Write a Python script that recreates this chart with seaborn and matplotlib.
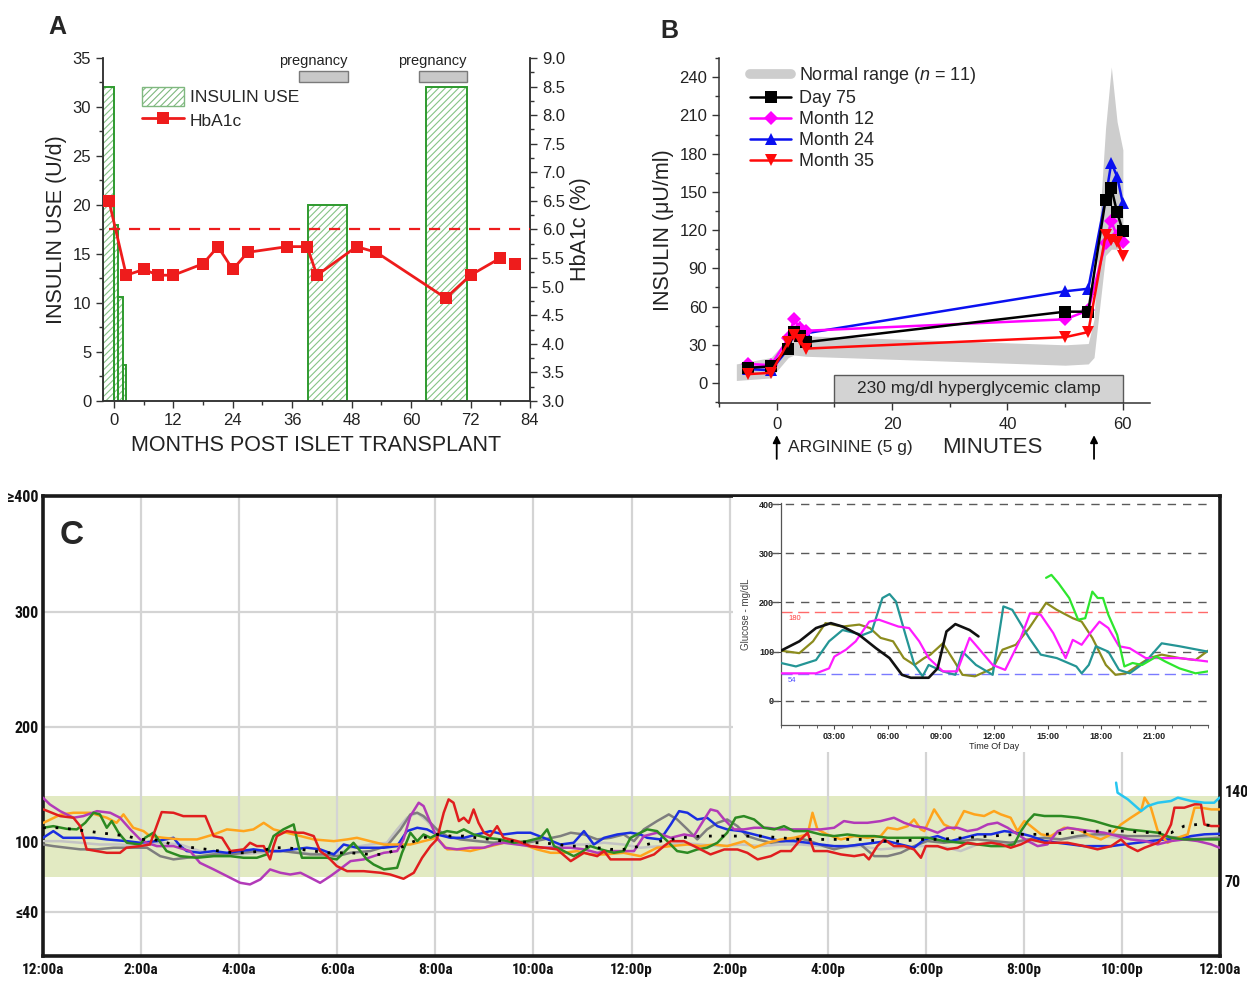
import matplotlib
matplotlib.use("Agg")
import matplotlib.pyplot as plt
import seaborn as sns
from matplotlib.patches import Patch, Rectangle
from matplotlib.lines import Line2D
from matplotlib.ticker import MultipleLocator, FormatStrFormatter
from matplotlib import font_manager

# ---------------- Panel A data ----------------
INS_START = [-2.2, 0.0, 0.9, 1.9, 39.1, 63.1]
INS_END = [0.0, 0.9, 1.9, 2.5, 47.1, 71.2]
INS_UNITS = [32, 18, 10.6, 3.7, 20, 32]
PREG_START = [37.3, 61.6]
PREG_END = [47.2, 71.2]
HBA_MONTH = [-1, 2.5, 6, 9, 12, 18, 21, 24, 27, 35, 39, 41, 49, 53, 67, 72, 78, 81]
HBA_VALUE = [6.5, 5.2, 5.3, 5.2, 5.2, 5.4, 5.7, 5.3, 5.6, 5.7, 5.7, 5.2, 5.7, 5.6, 4.8, 5.2, 5.5, 5.4]
HBA_TARGET = 6.0
TARGET_FROM = -1

# ---------------- Panel B data ----------------
B_MIN = [-5, -1, 2, 3, 4, 5, 50, 54, 57, 58, 59, 60]
DAY75 = [12, 13, 27, 40, 37, 32, 56, 56, 144, 153, 134, 119]
MONTH12 = [15, 14, 35, 50, 43, 41, 50, 57, 110, 127, 115, 111]
MONTH24 = [11, 10, 27, 40, 44, 39, 72, 74, 145, 173, 162, 141]
MONTH35 = [7, 8, 32, 38, 34, 27, 36, 40, 116, 112, 111, 100]
NR_MIN = [-7, -1, 2, 3, 5, 50, 54, 55, 56, 57, 58, 59, 60]
NR_LOW = [2, 4, 20, 22, 21, 14, 15, 20, 60, 100, 105, 105, 110]
NR_HIGH = [15, 20, 35, 45, 37, 30, 31, 50, 130, 200, 248, 205, 183]
CLAMP_FROM, CLAMP_TO, CLAMP_TOP = 10, 60, 6.6
ARROW_MIN = [0, 55]

# ---------------- Panel C data (hour of day, mg/dL) ----------------
C_TICK_HOURS = list(range(0, 25, 2))
C_TICK_LABELS = ["12:00a", "2:00a", "4:00a", "6:00a", "8:00a", "10:00a", "12:00p",
                 "2:00p", "4:00p", "6:00p", "8:00p", "10:00p", "12:00a"]
C_Y_TICKS = [40, 100, 200, 300, 400]
C_Y_LABELS = ["\u226440", "100", "200", "300", "\u2265400"]
C_GRID_Y = [40, 200, 300]
TARGET_LOW, TARGET_HIGH = 70, 140

RED = [(0.01,128.6),(0.35,122.8),(0.62,121.4),(0.76,114),(0.89,94),(1.3,91),(1.57,91),(1.7,95.4),(1.98,96.8),(2.18,98.2),(2.42,126.3),(2.66,125.7),(2.86,122.8),(3.31,122.8),(3.48,105.5),(3.65,104),(3.82,92.5),(4.09,94),(4.22,99.7),(4.36,96.8),(4.5,96.8),(4.63,85.3),(4.7,96.8),(4.77,105.5),(4.97,109.8),(5.18,108.4),(5.31,108.4),(5.52,105.5),(5.65,92.5),(5.79,88.1),(5.99,79.5),(6.2,75.1),(6.54,75.1),(6.88,73.7),(7.08,72.2),(7.35,68.5),(7.56,73.7),(7.73,86.7),(7.9,96.8),(8.03,102.6),(8.17,125.7),(8.27,137.3),(8.37,134.4),(8.48,118.5),(8.58,121.4),(8.68,117),(8.78,128.6),(8.88,117),(8.99,108.4),(9.12,105.5),(9.26,114.1),(9.39,104),(9.67,101.1),(9.94,96.8),(10.21,95.4),(10.48,94),(10.76,83.8),(11.03,91),(11.3,88.1),(11.44,92.5),(11.57,85.3),(11.84,85.3),(12.18,85.3),(12.46,89.6),(12.66,96.8),(12.8,101.1),(13.07,101.1),(13.34,95.4),(13.61,89.6),(13.89,93.9),(14.16,93.9),(14.36,91),(14.57,85.3),(14.84,88.1),(15.04,92.5),(15.25,92.5),(15.45,102.6),(15.59,108.4),(15.72,92.5),(15.99,92.5),(16.27,89.6),(16.54,88.1),(16.74,89.6),(16.84,85.3),(17.01,96.8),(17.15,102.6),(17.35,96.8),(17.56,96.8),(17.76,93.9),(17.9,86.7),(18.0,96.8),(18.24,96.8),(18.44,94),(18.65,95.4),(18.85,99.7),(19.05,98.3),(19.33,99.7),(19.53,98.3),(19.73,95.4),(19.94,98.3),(20.14,102.6),(20.42,99.7),(20.62,99.7),(20.89,99.7),(21.23,96.8),(21.5,94),(21.78,96.8),(21.98,102.6),(22.12,96.8),(22.32,92.5),(22.46,95.4),(22.73,99.7),(22.9,107),(23.0,115.6),(23.07,130.1),(23.27,130.1),(23.48,133),(23.61,133),(23.68,115.6),(23.82,114.2),(23.99,114.2)]
ORANGE = [(0.01,117),(0.35,124),(0.62,125.7),(0.96,125.7),(1.3,121.4),(1.5,117),(1.64,124.3),(1.84,112.7),(2.05,109.8),(2.18,105.5),(2.46,104),(2.8,102.6),(3.14,102.6),(3.48,106.9),(3.75,111.3),(4.09,109.8),(4.29,111.3),(4.5,117),(4.7,111.3),(4.97,108.4),(5.25,105.5),(5.52,102.6),(5.93,101.1),(6.2,102.6),(6.4,104),(6.67,101.1),(6.95,98.2),(7.22,98.2),(7.49,98.2),(7.76,101.1),(8.03,104),(8.24,94),(8.44,94),(8.71,92.5),(8.99,95.4),(9.26,98.2),(9.53,101.1),(9.8,98.2),(10.07,94),(10.35,91),(10.62,91),(10.89,92.5),(11.16,89.6),(11.44,89.6),(11.84,91),(12.18,88.1),(12.52,95.4),(12.8,96.8),(13.14,98.2),(13.41,96.8),(13.68,98.2),(13.95,96.8),(14.3,101.1),(14.5,95.4),(14.77,99.7),(15.04,102.6),(15.31,104),(15.59,106.9),(15.69,125.7),(15.79,111.3),(15.99,106.9),(16.27,102.6),(16.54,105.5),(16.81,104),(17.08,105.5),(17.22,112.7),(17.42,111.3),(17.63,114.1),(17.76,119.9),(17.9,111.3),(17.97,109.8),(18.17,128.6),(18.37,115.6),(18.58,111.3),(18.78,127.2),(18.99,124.3),(19.19,122.9),(19.39,127.2),(19.53,124.3),(19.73,121.4),(19.87,109.8),(20.01,118.5),(20.14,114.2),(20.35,107),(20.55,105.5),(20.82,112.7),(21.1,111.3),(21.37,105.5),(21.57,102.6),(21.78,107),(21.98,115.6),(22.18,121.4),(22.39,127.2),(22.46,138.8),(22.59,130.1),(22.73,109.8),(22.93,99.7),(23.14,104.1),(23.34,107),(23.48,130.1),(23.61,130.1),(23.82,128.6),(23.99,128.6)]
PURPLE = [(0,138.7),(0.14,132.9),(0.35,127.1),(0.62,121.4),(0.82,122.8),(1.1,127.1),(1.37,125.7),(1.57,121.4),(1.78,111.3),(1.98,102.6),(2.12,99.7),(2.32,96.8),(2.66,96.8),(3.0,92.5),(3.2,82.3),(3.48,76.6),(3.75,70.8),(4.02,65),(4.22,63.6),(4.43,67.9),(4.63,76.6),(4.84,73.7),(5.04,72.2),(5.25,73.7),(5.45,69.4),(5.65,65),(5.86,70.8),(6.06,77),(6.27,83.8),(6.54,85.3),(6.74,88.1),(6.95,91),(7.22,92.5),(7.35,102.6),(7.49,122.8),(7.66,134.4),(7.76,131.5),(7.9,117),(8.03,104),(8.2,95.4),(8.44,94),(8.71,95.4),(8.99,95.4),(9.19,98.2),(9.39,99.7),(9.67,98.2),(9.94,96.8),(10.21,95.4),(10.48,95.4),(10.76,95.4),(11.03,94),(11.3,91),(11.57,92.5),(11.84,92.5),(12.05,92.5),(12.25,105.5),(12.52,108.4),(12.8,104),(13.07,106.9),(13.27,105.5),(13.48,119.9),(13.61,128.6),(13.75,127.1),(13.89,119.9),(14.09,111.3),(14.29,111.3),(14.5,112.7),(14.77,112.7),(15.04,111.3),(15.31,111.3),(15.59,111.3),(15.86,111.3),(16.13,112.7),(16.33,118.5),(16.54,117),(16.81,117),(17.08,118.5),(17.35,121.4),(17.56,117),(17.76,114.1),(17.97,112.7),(18.24,108.4),(18.44,112.7),(18.65,112.7),(18.85,109.8),(19.05,111.3),(19.26,115.6),(19.46,117.1),(19.67,112.7),(19.87,107),(20.08,101.2),(20.28,96.8),(20.48,98.3),(20.69,109.8),(20.89,112.7),(21.1,111.3),(21.37,109.8),(21.64,108.4),(21.91,105.5),(22.18,102.6),(22.46,101.2),(22.73,98.3),(23.0,101.2),(23.27,102.6),(23.54,101.2),(23.82,98.3),(23.99,95.4)]
GREEN = [(0,112.7),(0.21,114.1),(0.48,111.8),(0.69,111.3),(0.86,117),(1.03,125.7),(1.16,124.3),(1.3,112.7),(1.4,118.5),(1.54,108.4),(1.71,99.7),(1.98,98.2),(2.08,104),(2.25,108.4),(2.35,102.6),(2.52,92.5),(2.8,88.1),(3.14,86.7),(3.48,88.1),(3.82,88.1),(4.09,86.7),(4.36,86.7),(4.56,89.6),(4.7,105.5),(4.9,111.3),(5.11,115.6),(5.21,96.8),(5.28,86.7),(5.59,86.7),(5.79,86.7),(5.99,85.3),(6.13,91),(6.33,99.7),(6.47,92.5),(6.6,85.3),(6.74,80.9),(6.95,76.6),(7.22,78),(7.32,91),(7.42,101.1),(7.49,108.4),(7.63,101.1),(7.76,106.9),(7.9,104),(8.03,106.9),(8.24,109.8),(8.44,108.4),(8.58,111.3),(8.78,106.9),(9.05,104),(9.33,102.6),(9.6,99.7),(9.87,101.1),(10.14,104),(10.28,111.3),(10.42,96.8),(10.55,94),(10.82,88.1),(10.96,91),(11.16,96.8),(11.37,94),(11.64,91),(11.84,92.5),(11.98,104),(12.18,108.4),(12.32,111.3),(12.52,109.8),(12.73,101.1),(12.93,92.5),(13.14,91),(13.34,93.9),(13.54,95.4),(13.75,99.7),(13.95,108.4),(14.12,121.4),(14.29,122.8),(14.5,119.9),(14.7,112.7),(14.91,111.3),(15.11,114.1),(15.31,109.8),(15.59,109.8),(15.86,106.9),(16.13,105.5),(16.4,106.9),(16.67,105.5),(16.95,105.5),(17.22,104),(17.56,104),(18.03,104.1),(18.37,101.2),(18.71,99.7),(19.05,98.3),(19.33,96.8),(19.6,96.8),(19.8,98.3),(19.94,109.8),(20.08,118.5),(20.21,124.3),(20.42,122.9),(20.76,122.9),(21.1,121.4),(21.44,118.5),(21.78,114.2),(22.12,111.3),(22.46,109.8),(22.73,108.4),(23.0,104.1),(23.27,102.6),(23.54,102.6),(23.99,102.6)]
BLUE = [(0,104),(0.21,109.8),(0.41,104),(0.69,104),(1.03,104),(1.3,102.6),(1.71,101.1),(1.98,99.7),(2.32,101.1),(2.66,104),(2.8,96.8),(2.93,92.5),(3.2,91),(3.48,92.5),(3.75,91),(4.02,92.5),(4.29,94),(4.56,92.5),(4.84,92.5),(5.11,94),(5.38,95.4),(5.65,94),(5.93,89.6),(6.13,98.2),(6.4,95.4),(6.67,95.4),(6.95,95.4),(7.22,96.8),(7.42,109.8),(7.63,112.7),(7.83,111.3),(8.03,106.9),(8.31,104),(8.58,104),(8.85,106.9),(9.12,109.8),(9.39,106.9),(9.67,108.4),(9.94,108.4),(10.21,104),(10.55,98.2),(10.82,99.7),(11.03,109.8),(11.23,98.2),(11.44,104),(11.71,106.9),(11.98,108.4),(12.18,106.9),(12.32,104),(12.59,102.6),(12.8,115.6),(12.97,127.1),(13.14,125.7),(13.34,119.9),(13.54,121.4),(13.75,114.1),(13.95,111.3),(14.23,109.8),(14.5,106.9),(14.77,104),(15.04,101.1),(15.31,101.1),(15.59,99.7),(15.86,98.2),(16.13,96.8),(16.4,96.8),(16.67,98.2),(16.95,99.7),(17.22,101.1),(17.49,98.2),(17.76,95.4),(17.97,102.6),(18.24,105.5),(18.51,101.2),(18.78,104.1),(19.05,107),(19.33,107),(19.6,109.8),(19.87,108.4),(20.14,105.5),(20.42,101.2),(20.69,99.7),(20.96,98.3),(21.23,96.8),(21.5,96.8),(21.78,96.8),(22.05,98.3),(22.32,99.7),(22.59,101.2),(22.87,102.6),(23.14,102.6),(23.41,105.5),(23.68,107),(23.99,107.5)]
DGRAY = [(0,98.2),(0.21,96.8),(0.48,95.4),(0.76,94),(1.1,94),(1.44,95.4),(1.78,95.4),(2.12,95.4),(2.39,88.1),(2.66,85.3),(2.93,86.7),(3.2,88.1),(3.48,89.6),(3.82,89.6),(4.09,91),(4.36,92.5),(4.63,92.5),(4.9,92.5),(5.18,91),(5.45,89.6),(5.72,89.6),(5.99,88.1),(6.27,91),(6.67,92.5),(7.01,96.8),(7.29,111.3),(7.49,124.3),(7.63,125.7),(7.76,122.8),(7.9,117),(8.03,111.3),(8.24,105.5),(8.51,102.6),(8.85,101.1),(9.19,99.7),(9.53,101.1),(9.87,99.7),(10.21,102.6),(10.55,105.5),(10.76,108.4),(11.03,106.9),(11.3,102.6),(11.57,104),(11.84,106.9),(12.05,101.1),(12.25,111.3),(12.52,118.5),(12.76,124.3),(12.93,119.9),(13.14,111.3),(13.34,102.6),(13.54,111.3),(13.75,117),(13.95,119.9),(14.16,114.1),(14.36,105.5),(14.57,102.6),(14.84,99.7),(15.11,101.1),(15.38,104),(15.65,101.1),(15.92,96.8),(16.13,94),(16.4,96.8),(16.67,98.2),(16.95,88.1),(17.22,88.1),(17.49,91),(17.76,96.8),(18.03,101.2),(18.37,99.7),(18.71,101.2),(19.05,102.6),(19.39,101.2),(19.73,99.7),(20.08,102.6),(20.42,104.1),(20.76,102.6),(21.1,105.5),(21.44,107),(21.78,107),(22.12,105.5),(22.46,105.5),(22.8,105.5),(23.14,104.1),(23.48,102.6),(23.99,104.1)]
LGRAY = [(0,101.1),(0.35,101.1),(0.76,99.7),(1.16,98.2),(1.57,98.2),(1.98,96.8),(2.39,99.7),(2.8,98.2),(3.2,92.5),(3.61,89.6),(4.02,89.6),(4.43,91),(4.84,92.5),(5.25,91),(5.65,89.6),(6.06,91),(6.27,95.4),(6.67,98.2),(7.01,99.7),(7.22,111.3),(7.42,121.4),(7.63,125.7),(7.83,118.5),(8.03,108.4),(8.31,104),(8.71,102.6),(9.12,99.7),(9.53,99.7),(9.87,96.8),(10.21,95.4),(10.62,98.2),(11.03,98.2),(11.44,99.7),(11.84,98.2),(12.18,95.4),(12.59,96.8),(13.0,99.7),(13.41,98.2),(13.82,96.8),(14.23,98.2),(14.63,96.8),(15.04,98.2),(15.45,98.2),(15.86,96.8),(16.27,95.4),(16.67,96.8),(17.08,94),(17.49,95.4),(17.9,96.8),(18.1,96.8),(18.44,95.4),(18.71,92.5),(19.05,98.3),(19.46,99.7),(19.87,99.7),(20.28,101.2),(20.69,102.6),(21.1,104.1),(21.5,105.5),(21.91,104.1),(22.32,102.6),(22.73,102.6),(23.14,104.1),(23.54,104.1),(23.99,104.1)]
MEAN = [(0,112.7),(0.35,112.7),(0.62,111.3),(0.89,109.8),(1.16,108.4),(1.44,106.9),(1.71,105.5),(1.98,102.6),(2.25,102.6),(2.52,99.7),(2.8,96.8),(3.07,95.4),(3.34,94),(3.61,92.5),(3.88,91),(4.16,91),(4.43,92.5),(4.7,95.4),(4.97,95.4),(5.25,94),(5.52,92.5),(5.79,91),(6.06,91),(6.27,91),(6.67,89.6),(6.95,89.6),(7.22,94),(7.49,99.7),(7.76,104),(8.03,106.9),(8.31,105.5),(8.58,105.5),(8.85,104),(9.12,102.6),(9.39,101.1),(9.67,101.1),(9.94,99.7),(10.21,99.7),(10.48,98.2),(10.76,96.8),(11.03,96.8),(11.3,95.4),(11.57,94),(11.84,94),(12.18,96.8),(12.59,101.1),(13.0,104),(13.41,105.5),(13.82,105.5),(14.23,105.5),(14.63,105.5),(15.04,104),(15.45,102.6),(15.86,102.6),(16.27,102.6),(16.67,102.6),(17.08,101.1),(17.49,101.1),(17.9,102.6),(18.24,102.6),(18.78,104.1),(19.33,105.5),(19.87,107),(20.42,107),(20.96,108.4),(21.5,109.8),(22.05,109.8),(22.59,108.4),(23.0,108.4),(23.27,114.2),(23.54,115.6),(23.99,114.2)]
CYAN = [(21.88,151.8),(21.91,143.1),(22.12,137.3),(22.39,127.2),(22.52,131.5),(22.73,134.4),(23.0,135.9),(23.14,138.8),(23.41,135.9),(23.68,134.4),(23.88,134.4),(23.99,138.8)]

# ---------------- Inset data (hour of day, mg/dL) ----------------
IN_X_TICKS = [3, 6, 9, 12, 15, 18, 21]
IN_X_LABELS = ["03:00", "06:00", "09:00", "12:00", "15:00", "18:00", "21:00"]
IN_Y_TICKS = [0, 100, 200, 300, 400]
IN_HIGH, IN_LOW = 180, 54
BLACK_IN = [(0,102),(1.03,121),(1.97,148),(2.8,158),(3.46,151),(4.4,134),(5.34,107),(6.1,87),(6.8,53),(7.3,47),(8.3,47),(8.8,66),(9.3,141),(9.8,156),(10.6,144),(11.1,131)]
OLIVE_IN = [(0,102),(1.03,97),(1.8,121),(2.5,158),(3.46,151),(4.4,155),(5.0,148),(5.6,128),(6.3,121),(6.9,87),(7.5,73),(8.05,87),(8.4,94),(9.1,117),(9.8,77),(10.2,53),(10.9,50),(11.9,66),(12.45,104),(13.2,114),(13.95,148),(14.9,199),(15.5,185),(16.4,168),(16.9,161),(17.5,128),(18.26,73),(18.8,53),(19.4,56),(20.1,73),(20.7,87),(21.4,94),(22.4,87),(23.3,83),(24,102)]
TEAL_IN = [(0,77),(0.84,70),(1.97,83),(2.7,121),(3.46,144),(4.6,134),(5.1,141),(5.7,209),(6.1,217),(6.46,202),(7.0,134),(7.5,73),(7.96,50),(8.3,73),(9.1,60),(9.8,53),(10.2,100),(10.96,73),(11.9,53),(12.5,192),(13.0,185),(13.95,128),(14.6,94),(15.5,87),(16.6,70),(16.9,56),(17.3,73),(17.7,111),(18.4,100),(19.0,63),(19.6,56),(20.5,80),(21.4,117),(22.4,111),(24,100)]
MAGENTA_IN = [(0,56),(1.97,56),(2.7,66),(3.0,90),(3.65,104),(4.2,121),(4.96,161),(5.5,165),(6.6,151),(7.2,148),(7.77,121),(8.3,87),(9.1,60),(9.9,60),(10.6,128),(11.1,107),(11.9,73),(12.6,63),(13.4,121),(14.0,178),(14.6,175),(15.3,138),(16.0,87),(16.4,124),(16.9,114),(17.3,134),(17.9,161),(18.4,148),(19.0,111),(19.6,107),(20.5,87),(21.4,87),(22.4,87),(24,80)]
LIME_IN = [(14.9,250),(15.2,256),(15.6,239),(16.2,209),(16.7,165),(17.1,168),(17.5,222),(17.8,209),(18.1,209),(18.4,175),(18.9,134),(19.3,70),(19.76,77),(20.3,73),(21.1,90),(21.6,80),(22.4,66),(23.3,56),(24,60)]

# ---------------- Style ----------------
sns.set_theme(style="ticks")
plt.rcParams["font.family"] = ["Liberation Sans", "DejaVu Sans"]
plt.rcParams["mathtext.fontset"] = "custom"
plt.rcParams["mathtext.it"] = "Liberation Sans:italic"
plt.rcParams["mathtext.rm"] = "Liberation Sans"
plt.rcParams["hatch.linewidth"] = 0.8

_installed = {f.name for f in font_manager.fontManager.ttflist}
_narrow = [n for n in ("Roboto Condensed", "Liberation Sans Narrow", "DejaVu Sans Condensed",
                       "Open Sans Condensed") if n in _installed]
if _narrow:
    COND = [_narrow[0], "DejaVu Sans"]
    C_XFS, C_YFS = 11, 11.5
else:
    COND = ["Liberation Sans", "DejaVu Sans"]
    C_XFS, C_YFS = 9.5, 10.5

fig = plt.figure(figsize=(12.47, 9.84), dpi=100)

# ================= Panel A =================
axA = fig.add_axes([0.0826, 0.5925, 0.3424, 0.3486])
widths = [e - s for s, e in zip(INS_START, INS_END)]
axA.bar(INS_START, INS_UNITS, width=widths, align="edge", facecolor="white",
        edgecolor="#86c486", hatch="/////", linewidth=0, zorder=1)
axA.bar(INS_START, INS_UNITS, width=widths, align="edge", fill=False,
        edgecolor="#2e9a2e", linewidth=1.4, zorder=2)
pw = [e - s for s, e in zip(PREG_START, PREG_END)]
axA.bar(PREG_START, [1.1] * len(PREG_START), bottom=32.55, width=pw, align="edge",
        facecolor="#c8c8c8", edgecolor="#7a7a7a", linewidth=1, zorder=2)
for s, e in zip(PREG_START, PREG_END):
    axA.text(e, 34.0, "pregnancy", ha="right", va="bottom", fontsize=10.5, color="#222")
axA.set_xlim(-2.2, 84)
axA.set_ylim(0, 35)
axA.xaxis.set_major_locator(MultipleLocator(12))
axA.xaxis.set_minor_locator(MultipleLocator(6))
axA.yaxis.set_major_locator(MultipleLocator(5))
axA.yaxis.set_minor_locator(MultipleLocator(2.5))
axA.set_xlabel("MONTHS POST ISLET TRANSPLANT", fontsize=15.5, labelpad=5, color="#222")
axA.set_ylabel("INSULIN USE (U/d)", fontsize=15.5, labelpad=4, color="#222")

axA2 = axA.twinx()
red = "#ee1c1c"
sns.lineplot(x=HBA_MONTH[:-1], y=HBA_VALUE[:-1], ax=axA2, color=red, lw=2.0,
             marker="s", markersize=9, markeredgewidth=0, zorder=5)
sns.scatterplot(x=HBA_MONTH[-1:], y=HBA_VALUE[-1:], ax=axA2, color=red, marker="s",
                s=81, linewidth=0, zorder=5)
axA2.hlines(HBA_TARGET, TARGET_FROM, 84, colors=red, linestyles=(0, (5, 4)), lw=1.6, zorder=4)
axA2.set_ylim(3, 9)
axA2.yaxis.set_major_locator(MultipleLocator(0.5))
axA2.yaxis.set_minor_locator(MultipleLocator(0.25))
axA2.yaxis.set_major_formatter(FormatStrFormatter("%.1f"))
axA2.set_ylabel("HbA1c (%)", fontsize=15.5, labelpad=4, color="#222")
for ax in (axA, axA2):
    ax.spines["top"].set_visible(False)
    for sp in ax.spines.values():
        sp.set_color("#333")
        sp.set_linewidth(1.1)
    ax.tick_params(which="major", length=5, width=1, labelsize=12, colors="#333", labelcolor="#222")
    ax.tick_params(which="minor", length=3, width=1, colors="#333")
axA.tick_params(axis="x", pad=4)
hA = [Patch(facecolor="white", edgecolor="#7fb87f", hatch="/////", lw=1, label="INSULIN USE"),
      Line2D([], [], color=red, lw=2, marker="s", markersize=9, markeredgewidth=0, label="HbA1c")]
axA2.legend(handles=hA, loc="upper left", bbox_to_anchor=(0.075, 0.935), frameon=False,
            fontsize=12.5, handlelength=2.4, handleheight=1.3, labelspacing=0.25,
            handletextpad=0.35, borderaxespad=0)
fig.text(0.046, 0.973, "A", fontsize=18, fontweight="bold", ha="center", va="center")

# ================= Panel B =================
axB = fig.add_axes([0.5766, 0.5904, 0.3456, 0.3506])
ylo = -15.7
axB.fill_between(NR_MIN, NR_LOW, NR_HIGH, color="#cdcdcd", lw=0, zorder=1)
axB.add_patch(Rectangle((CLAMP_FROM, ylo), CLAMP_TO - CLAMP_FROM, CLAMP_TOP - ylo,
                        facecolor="#d3d3d3", edgecolor="#5a5a5a", lw=1, zorder=2))
axB.text((CLAMP_FROM + CLAMP_TO) / 2, (ylo + CLAMP_TOP) / 2, "230 mg/dl hyperglycemic clamp",
         ha="center", va="center", fontsize=12.5, zorder=3)
series = [("Day 75", DAY75, "black", "s", 8), ("Month 12", MONTH12, "#ff00ff", "D", 7.5),
          ("Month 24", MONTH24, "#0a10f0", "^", 9), ("Month 35", MONTH35, "#ff0a0a", "v", 9)]
for name, vals, col, mk, ms in [series[2], series[1], series[0], series[3]]:
    sns.lineplot(x=B_MIN, y=vals, ax=axB, color=col, lw=1.8, marker=mk, markersize=ms,
                 markeredgewidth=0, zorder=4)
axB.set_xlim(-10, 64.7)
axB.set_ylim(ylo, 255)
axB.xaxis.set_major_locator(MultipleLocator(20))
axB.xaxis.set_minor_locator(MultipleLocator(10))
axB.yaxis.set_major_locator(MultipleLocator(30))
axB.yaxis.set_minor_locator(MultipleLocator(15))
axB.set_ylabel("INSULIN (\u03bcU/ml)", fontsize=15.5, labelpad=4, color="#222")
axB.spines["top"].set_visible(False)
axB.spines["right"].set_visible(False)
for sp in axB.spines.values():
    sp.set_color("#333")
    sp.set_linewidth(1.1)
axB.tick_params(which="major", length=5, width=1, labelsize=12, colors="#333", labelcolor="#222")
axB.tick_params(which="minor", length=3, width=1, colors="#333")
axB.tick_params(axis="x", pad=5)
hB = [Line2D([], [], color="#cdcdcd", lw=7, label="Normal range ($\\it{n}$ = 11)")]
for name, vals, col, mk, ms in series:
    hB.append(Line2D([], [], color=col, lw=1.8, marker=mk, markersize=ms, markeredgewidth=0, label=name))
axB.legend(handles=hB, loc="upper left", bbox_to_anchor=(0.055, 1.0), frameon=False,
           fontsize=13, handlelength=2.3, labelspacing=0.22, handletextpad=0.4, borderaxespad=0)
for t in ARROW_MIN:
    axB.annotate("", xy=(t, -0.085), xycoords=("data", "axes fraction"),
                 xytext=(t, -0.17), textcoords=("data", "axes fraction"),
                 arrowprops=dict(arrowstyle="-|>", color="black", lw=1.3, mutation_scale=11))
axB.text(0.16, -0.13, "ARGININE (5 g)", transform=axB.transAxes, fontsize=12.5, ha="left", va="center")
axB.text(0.634, -0.13, "MINUTES", transform=axB.transAxes, fontsize=16, ha="center", va="center")
fig.text(0.537, 0.968, "B", fontsize=18, fontweight="bold", ha="center", va="center")

# ================= Panel C =================
axC = fig.add_axes([0.0345, 0.0285, 0.9439, 0.4675])
axC.set_xlim(0, 24)
axC.set_ylim(1.6, 400.3)
axC.axhspan(TARGET_LOW, TARGET_HIGH, color="#e2eac2", lw=0, zorder=0.5)
axC.vlines(C_TICK_HOURS[1:-1], 1.6, 400.3, colors="#d4d4d4", lw=1.6, zorder=1)
axC.hlines(C_GRID_Y, 0, 24, colors="#d4d4d4", lw=1.6, zorder=1)
traces = [(LGRAY, "#c4c4c4"), (DGRAY, "#7e7e7e"), (BLUE, "#1a2ee0"), (ORANGE, "#ffa41c"),
          (PURPLE, "#b23ab8"), (GREEN, "#2c8a22"), (RED, "#e01e1e"), (CYAN, "#28c6f0")]
for pts, col in traces:
    hx, hv = zip(*pts)
    sns.lineplot(x=list(hx), y=list(hv), ax=axC, color=col, lw=1.8, sort=False,
                 estimator=None, zorder=3)
mx, mv = zip(*MEAN)
axC.plot(mx, mv, color="black", lw=2.0, linestyle=(0, (1, 3.5)), zorder=4)
axC.set_xticks(C_TICK_HOURS)
axC.set_xticklabels(C_TICK_LABELS, fontsize=C_XFS, fontweight="bold", family=COND)
axC.set_yticks(C_Y_TICKS)
axC.set_yticklabels(C_Y_LABELS, fontsize=C_YFS, fontweight="bold", family=COND)
axC.tick_params(length=0, pad=5, labelcolor="#111")
axC.tick_params(axis="y", pad=3)
axC.grid(False)
for sp in axC.spines.values():
    sp.set_visible(True)
    sp.set_color("#1a1a1a")
    sp.set_linewidth(2.6)
for v, dy in ((TARGET_HIGH, 3), (TARGET_LOW, -5)):
    axC.text(1.004, v + dy, str(v), transform=axC.get_yaxis_transform(), fontsize=C_YFS,
             fontweight="bold", family=COND, ha="left", va="center", color="#111")
axC.text(0.0246, 0.915, "C", transform=axC.transAxes, fontsize=24, fontweight="bold",
         ha="center", va="center")

# ---- inset ----
bg = fig.add_axes([0.5878, 0.2358, 0.389, 0.2591], zorder=5)
bg.set_facecolor("white")
bg.set_xticks([])
bg.set_yticks([])
for sp in bg.spines.values():
    sp.set_visible(False)
ins = fig.add_axes([0.6263, 0.2632, 0.3424, 0.2256], zorder=6)
ins.set_facecolor("none")
ins.set_xlim(0, 24)
ins.set_ylim(-49, 402)
for y in IN_Y_TICKS:
    ins.axhline(y, xmin=-0.025, xmax=1.0, color="#5a5a5a", lw=1.0, dashes=(6, 5), clip_on=False, zorder=1)
ins.axhline(IN_HIGH, color="#ff6a6a", lw=1.0, dashes=(8, 4), zorder=1)
ins.axhline(IN_LOW, color="#7a7aff", lw=1.0, dashes=(8, 4), zorder=1)
ins.text(0.4, IN_HIGH - 5, str(IN_HIGH), color="#ff4040", fontsize=5.5, va="top")
ins.text(0.4, IN_LOW - 5, str(IN_LOW), color="#5050ff", fontsize=5.5, va="top")
for pts, col, lw in [(OLIVE_IN, "#8c8c1e", 1.6), (TEAL_IN, "#249595", 1.6),
                     (MAGENTA_IN, "#ff1cff", 1.6), (LIME_IN, "#2ee62e", 1.6),
                     (BLACK_IN, "#111111", 1.9)]:
    hx, hv = zip(*pts)
    sns.lineplot(x=list(hx), y=list(hv), ax=ins, color=col, lw=lw, sort=False,
                 estimator=None, zorder=3)
ins.set_xticks(IN_X_TICKS)
ins.set_xticklabels(IN_X_LABELS, fontsize=6.5, fontweight="bold")
ins.xaxis.set_minor_locator(MultipleLocator(1))
ins.set_yticks(IN_Y_TICKS)
ins.set_yticklabels([str(v) for v in IN_Y_TICKS], fontsize=6.5, fontweight="bold")
ins.tick_params(which="major", length=3, width=0.8, pad=2, colors="#444", labelcolor="#222")
ins.tick_params(which="minor", length=2, width=0.6, colors="#444")
ins.set_xlabel("Time Of Day", fontsize=6.5, labelpad=1)
ins.set_ylabel("Glucose - mg/dL", fontsize=7, labelpad=6, color="#444")
ins.spines["top"].set_visible(False)
ins.spines["right"].set_visible(False)
for sp in ("left", "bottom"):
    ins.spines[sp].set_color("#555")
    ins.spines[sp].set_linewidth(0.9)
ins.grid(False)

fig.savefig("out.png", dpi=100)
